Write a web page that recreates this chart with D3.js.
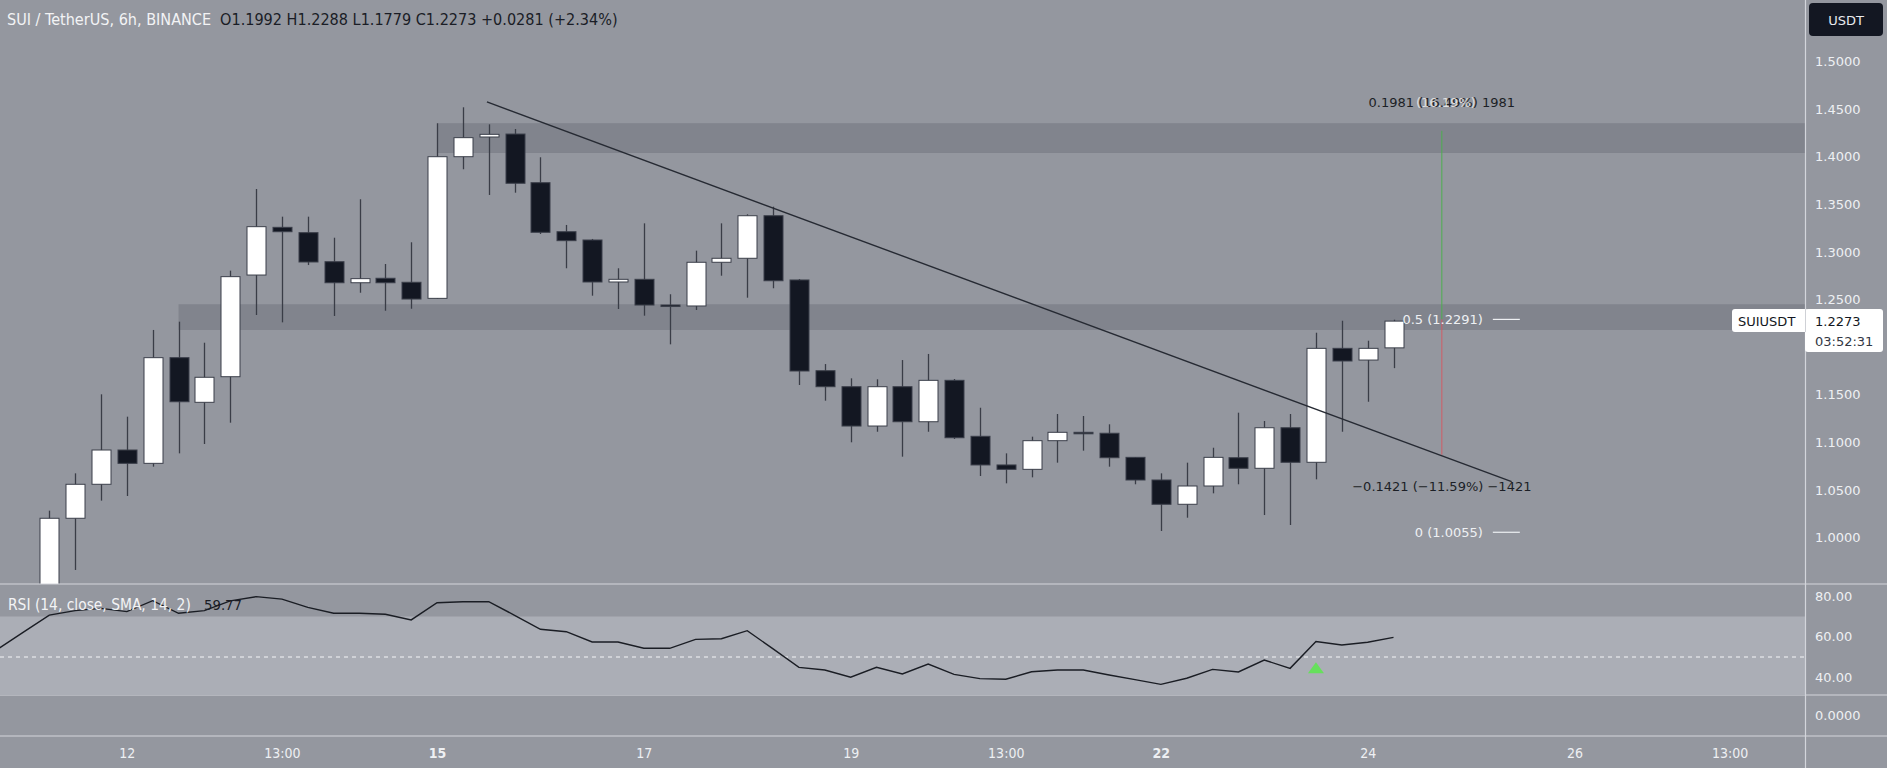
<!DOCTYPE html>
<html><head><meta charset="utf-8">
<script src="https://cdn.jsdelivr.net/npm/d3@7/dist/d3.min.js"></script>
<style>
html,body{margin:0;padding:0;background:#94979f;overflow:hidden;}
svg{display:block;}
</style></head>
<body>
<svg id="chart" width="1887" height="768"></svg>
<script>
// ---------------- DATA ----------------
const opens  = [0.945,1.0202,1.0559,1.0919,1.0779,1.1889,1.1420,1.1689,1.2757,1.3258,1.3202,1.2897,1.2676,1.2723,1.2681,1.2512,1.4000,1.4207,1.4238,1.3727,1.3212,1.3125,1.2684,1.2712,1.2442,1.2432,1.2891,1.2933,1.3380,1.2705,1.1752,1.1584,1.1171,1.1584,1.1216,1.1651,1.1063,1.0762,1.0716,1.1017,1.1105,1.1095,1.0842,1.0604,1.0349,1.0541,1.0838,1.0727,1.1153,1.0790,1.1987,1.1864,1.1992];
const highs  = [1.0282,1.0674,1.1504,1.1269,1.2180,1.2267,1.2046,1.2803,1.3661,1.3370,1.3370,1.3149,1.3553,1.2873,1.3101,1.4351,1.4519,1.4340,1.4291,1.3994,1.3283,1.3136,1.2828,1.3300,1.2555,1.3013,1.3300,1.3395,1.3475,1.2715,1.1822,1.1672,1.1662,1.1864,1.1928,1.1665,1.1363,1.0884,1.1059,1.1297,1.1276,1.1189,1.0845,1.0674,1.0786,1.0943,1.1311,1.1224,1.1297,1.2151,1.2277,1.2067,1.2288];
const lows   = [0.935,0.9659,1.0387,1.0436,1.0744,1.0884,1.0982,1.1206,1.2337,1.2260,1.2862,1.2327,1.2571,1.2382,1.2403,1.2505,1.3868,1.3598,1.3622,1.3188,1.2828,1.2540,1.2400,1.2330,1.2029,1.2390,1.2750,1.2519,1.2618,1.1602,1.1437,1.1000,1.1111,1.0849,1.1111,1.1035,1.0646,1.0569,1.0632,1.0786,1.0912,1.0744,1.0559,1.0068,1.0208,1.0464,1.0559,1.0236,1.0131,1.0611,1.1111,1.1426,1.1779];
const closes = [1.0202,1.0559,1.0919,1.0779,1.1889,1.1426,1.1683,1.2740,1.3265,1.3212,1.2894,1.2676,1.2719,1.2676,1.2505,1.4000,1.4200,1.4235,1.3721,1.3206,1.3118,1.2684,1.2712,1.2442,1.2440,1.2891,1.2933,1.3380,1.2697,1.1749,1.1584,1.1171,1.1584,1.1216,1.1651,1.1048,1.0762,1.0716,1.1017,1.1105,1.1100,1.0838,1.0604,1.0349,1.0541,1.0842,1.0727,1.1153,1.0790,1.1987,1.1854,1.1987,1.2273];

// RSI values start two bars before the first visible candle
const rsiStartIndex = -2;
const rsiValues = [53.8,62.3,70.7,72.9,74.0,72.4,77.8,71.6,72.9,77.7,79.8,78.6,74.5,71.6,71.6,71.1,68.3,76.8,77.3,77.3,70.6,63.7,62.5,57.4,57.4,54.3,54.3,58.7,59.0,63.0,54.0,44.9,43.6,40.0,44.9,41.6,46.5,41.4,39.3,39.0,42.7,43.6,43.6,41.1,38.8,36.5,39.5,43.9,42.6,48.5,44.4,57.6,55.9,57.3,59.7];
const rsiLastLabel = "59.77";
const rsiSignalIndex = 49, rsiSignalLevel = 45;

const timeTickIndex  = [3,9,15,23,31,37,43,51,59,65];
const timeTickLabels = ["12","13:00","15","17","19","13:00","22","24","26","13:00"];
const boldTickIndex  = [15,43];

const priceTicks = [1.0,1.05,1.1,1.15,1.2,1.25,1.3,1.35,1.4,1.45,1.5];
const rsiTicks = [80,60,40];
const rsiTickLabels = ["80.00","60.00","40.00"];

const zoneUpper = [1.4039,1.4352], zoneUpperStart = 15;
const zoneLower = [1.2180,1.2450], zoneLowerStart = 5;

const trendStart = [16.93,1.4575], trendEnd = [56.57,1.0586];

const fibIndex = 53.87;
const fibTop = 1.4272, fibMid = 1.2291, fibLow = 1.0870, fibZero = 1.0055;
const fibTopLabelPrice = 1.4575, fibLowLabelPrice = 1.0531;
const fibTopLabel = "0.1981 (16.49%) 1981";
const fibTopGhost = "(16.19%)";
const fibLowLabel = "\u22120.1421 (\u221211.59%) \u22121421";
const fibMidLabel = "0.5 (1.2291)", fibZeroLabel = "0 (1.0055)";

const lastPrice = 1.2273;
const headerTitle = "SUI / TetherUS, 6h, BINANCE";
const headerValues = "O1.1992  H1.2288  L1.1779  C1.2273  +0.0281 (+2.34%)";

// ---------------- LAYOUT ----------------
const W = 1887, H = 768;
const axisX = 1805;
const pricePaneBottom = 584, rsiPaneBottom = 695, extraPaneBottom = 736;
const BG = "#94979f", ZONE = "#81848d", BAND = "#abaeb6", SEP = "#d3d5db";
const DARK = "#131722", WICK = "#3a3d47";
const FONT = "'DejaVu Sans Condensed','Liberation Sans Narrow','Roboto Condensed','DejaVu Sans',sans-serif";
const AXFONT = "'DejaVu Sans',Verdana,sans-serif";

const svg = d3.select("#chart");
const x = d3.scaleLinear().domain([0,52]).range([49.3, 49.3 + 52*25.85]);
const y = d3.scaleLinear().domain([1.0,1.5]).range([537.5, 61.5]);
const yR = d3.scaleLinear().domain([30,80]).range([697.5, 596.25]);
const step = x(1) - x(0);

svg.append("rect").attr("width",W).attr("height",H).attr("fill",BG);

const defs = svg.append("defs");
defs.append("clipPath").attr("id","pclip").append("rect").attr("x",0).attr("y",0).attr("width",axisX).attr("height",pricePaneBottom);
defs.append("clipPath").attr("id","rclip").append("rect").attr("x",0).attr("y",pricePaneBottom).attr("width",axisX).attr("height",rsiPaneBottom-pricePaneBottom);

// ---- price pane ----
const pp = svg.append("g").attr("clip-path","url(#pclip)");
pp.append("rect").attr("x",x(zoneUpperStart)).attr("y",y(zoneUpper[1]))
  .attr("width",axisX - x(zoneUpperStart)).attr("height",y(zoneUpper[0])-y(zoneUpper[1])).attr("fill",ZONE);
pp.append("rect").attr("x",x(zoneLowerStart)).attr("y",y(zoneLower[1]))
  .attr("width",axisX - x(zoneLowerStart)).attr("height",y(zoneLower[0])-y(zoneLower[1])).attr("fill",ZONE);

// fib vertical lines
pp.append("line").attr("x1",x(fibIndex)).attr("x2",x(fibIndex)).attr("y1",y(fibTop)).attr("y2",y(fibMid))
  .attr("stroke","#4caf50").attr("stroke-width",1);
pp.append("line").attr("x1",x(fibIndex)).attr("x2",x(fibIndex)).attr("y1",y(fibMid)).attr("y2",y(fibLow))
  .attr("stroke","#e0505a").attr("stroke-width",1).attr("opacity",0.8);

// candles
const candles = d3.range(opens.length).map(i => ({i, o:opens[i], h:highs[i], l:lows[i], c:closes[i]}));
const bw = Math.round(step*0.75);
const cg = pp.append("g");
cg.selectAll("line.wick").data(candles).join("line").attr("class","wick")
  .attr("x1",d=>Math.round(x(d.i))+0.5).attr("x2",d=>Math.round(x(d.i))+0.5)
  .attr("y1",d=>y(d.h)).attr("y2",d=>y(d.l)).attr("stroke",WICK).attr("stroke-width",1.3);
cg.selectAll("rect.body").data(candles).join("rect").attr("class","body")
  .attr("x",d=>Math.round(x(d.i)) - bw/2 + 0.5)
  .attr("y",d=>y(Math.max(d.o,d.c)))
  .attr("width",bw)
  .attr("height",d=>Math.max(1.5, Math.abs(y(d.o)-y(d.c))))
  .attr("fill",d=>d.c>=d.o ? "#ffffff" : DARK)
  .attr("stroke","#3b3f4a").attr("stroke-width",1);

// trend line
pp.append("line").attr("x1",x(trendStart[0])).attr("y1",y(trendStart[1]))
  .attr("x2",x(trendEnd[0])).attr("y2",y(trendEnd[1]))
  .attr("stroke","#262a33").attr("stroke-width",1.4);

// fib labels
const fx = x(fibIndex);
const topLbl = pp.append("text").attr("y",y(fibTopLabelPrice)).attr("dy","0.35em").attr("text-anchor","middle")
  .attr("font-family",AXFONT).attr("font-size",13);
topLbl.append("tspan").attr("x",fx).attr("fill","#1c1f26").text(fibTopLabel);
topLbl.append("tspan").attr("x",fx+4).attr("fill","#eeeeee").attr("fill-opacity",0.85).text(fibTopGhost);
pp.append("text").attr("x",fx).attr("y",y(fibLowLabelPrice)).attr("dy","0.35em").attr("text-anchor","middle")
  .attr("font-family",AXFONT).attr("font-size",13).attr("fill","#1c1f26").text(fibLowLabel);
[[fibMid,fibMidLabel],[fibZero,fibZeroLabel]].forEach(([p,t])=>{
  pp.append("text").attr("x",fx+41).attr("y",y(p)).attr("dy","0.35em").attr("text-anchor","end")
    .attr("font-family",AXFONT).attr("font-size",13).attr("fill","#eef0f3").text(t);
  pp.append("line").attr("x1",fx+51).attr("x2",fx+78).attr("y1",y(p)).attr("y2",y(p))
    .attr("stroke","#eef0f3").attr("stroke-width",1.2);
});

// header
const hdr = svg.append("text").attr("x",7).attr("y",25).attr("font-family",FONT).attr("font-size",14);
hdr.append("tspan").attr("fill","#f2f3f5").text(headerTitle);
hdr.append("tspan").attr("fill","#1a1d26").attr("dx",9).text(headerValues);
(function(){const w=hdr.node().getComputedTextLength();hdr.attr("font-size",14*602/w);})();

// ---- separators ----
svg.append("line").attr("x1",0).attr("x2",W).attr("y1",pricePaneBottom).attr("y2",pricePaneBottom).attr("stroke",SEP).attr("stroke-width",1.2);
svg.append("line").attr("x1",0).attr("x2",W).attr("y1",rsiPaneBottom).attr("y2",rsiPaneBottom).attr("stroke",SEP).attr("stroke-width",1.2);
svg.append("line").attr("x1",0).attr("x2",W).attr("y1",extraPaneBottom).attr("y2",extraPaneBottom).attr("stroke",SEP).attr("stroke-width",1.2);

// ---- RSI pane ----
const rp = svg.append("g").attr("clip-path","url(#rclip)");
rp.append("rect").attr("x",0).attr("width",axisX).attr("y",yR(70)).attr("height",yR(30)-yR(70)).attr("fill",BAND);
rp.append("line").attr("x1",0).attr("x2",axisX).attr("y1",yR(50)).attr("y2",yR(50))
  .attr("stroke","#f4f5f7").attr("stroke-width",1).attr("stroke-dasharray","4,4");
const rsiPts = rsiValues.map((v,k)=>[x(rsiStartIndex+k), yR(v)]);
rp.append("path").attr("d",d3.line()(rsiPts)).attr("fill","none").attr("stroke","#1a1d24").attr("stroke-width",1.4);
const tx = x(rsiSignalIndex), ty = yR(rsiSignalLevel);
rp.append("path").attr("d",`M${tx-8},${ty+6} L${tx+8},${ty+6} L${tx},${ty-5} Z`).attr("fill","#66e05c");

const rl = svg.append("text").attr("x",8).attr("y",610).attr("font-family",FONT).attr("font-size",14).attr("fill","#f2f3f5").text("RSI (14, close, SMA, 14, 2)");
(function(){const w=rl.node().getComputedTextLength();rl.attr("font-size",14*183/w);})();
const rv = svg.append("text").attr("x",204).attr("y",610).attr("font-family",FONT).attr("font-size",14).attr("fill","#1a1d26").text(rsiLastLabel);
(function(){const w=rv.node().getComputedTextLength();rv.attr("font-size",14*38/w);})();

// ---- axes ----
svg.append("line").attr("x1",axisX+0.5).attr("x2",axisX+0.5).attr("y1",0).attr("y2",H).attr("stroke",SEP).attr("stroke-width",1.2);

const pAxis = d3.axisRight(y).tickValues(priceTicks).tickSize(0).tickPadding(10).tickFormat(d3.format(".4f"));
const pa = svg.append("g").attr("transform",`translate(${axisX},0)`).call(pAxis);
pa.select(".domain").remove();
pa.selectAll("text").attr("font-family",AXFONT).attr("font-size",13).attr("fill","#eef0f3");

const rAxis = d3.axisRight(yR).tickValues(rsiTicks).tickSize(0).tickPadding(10).tickFormat((d,i)=>rsiTickLabels[i]);
const ra = svg.append("g").attr("transform",`translate(${axisX},0)`).call(rAxis);
ra.select(".domain").remove();
ra.selectAll("text").attr("font-family",AXFONT).attr("font-size",13).attr("fill","#eef0f3");
svg.append("text").attr("x",axisX+10).attr("y",(rsiPaneBottom+extraPaneBottom)/2).attr("dy","0.35em")
  .attr("font-family",AXFONT).attr("font-size",13).attr("fill","#eef0f3").text("0.0000");

const tAxis = d3.axisBottom(x).tickValues(timeTickIndex).tickSize(0).tickPadding(12).tickFormat((d,i)=>timeTickLabels[i]);
const ta = svg.append("g").attr("transform",`translate(0,${extraPaneBottom})`).call(tAxis);
ta.select(".domain").remove();
ta.selectAll("text").attr("font-family",FONT).attr("font-size",14).attr("fill","#eef0f3")
  .attr("font-weight",d=>boldTickIndex.includes(d)?"bold":"normal");

// USDT badge
svg.append("rect").attr("x",1809).attr("y",3).attr("width",74).attr("height",33).attr("rx",4).attr("fill",DARK);
svg.append("text").attr("x",1846).attr("y",20).attr("dy","0.35em").attr("text-anchor","middle")
  .attr("font-family",AXFONT).attr("font-size",13).attr("fill","#e8eaee").text("USDT");

// last price labels
const ly = y(lastPrice);
svg.append("rect").attr("x",1732).attr("y",ly-12).attr("width",axisX-1732+3).attr("height",23).attr("rx",3).attr("fill","#ffffff");
svg.append("rect").attr("x",axisX).attr("y",ly-12).attr("width",78).attr("height",43).attr("rx",3).attr("fill","#ffffff");
svg.append("text").attr("x",1738).attr("y",ly).attr("dy","0.35em").attr("font-family",AXFONT).attr("font-size",13).attr("fill",DARK).text("SUIUSDT");
svg.append("text").attr("x",axisX+10).attr("y",ly).attr("dy","0.35em").attr("font-family",AXFONT).attr("font-size",13).attr("fill",DARK).text(lastPrice.toFixed(4));
svg.append("text").attr("x",axisX+10).attr("y",ly+20).attr("dy","0.35em").attr("font-family",AXFONT).attr("font-size",13).attr("fill","#333743").text("03:52:31");
svg.append("line").attr("x1",axisX+0.5).attr("x2",axisX+0.5).attr("y1",ly-12).attr("y2",ly+11).attr("stroke","#cfd1d6").attr("stroke-width",1);
</script>
</body></html>
